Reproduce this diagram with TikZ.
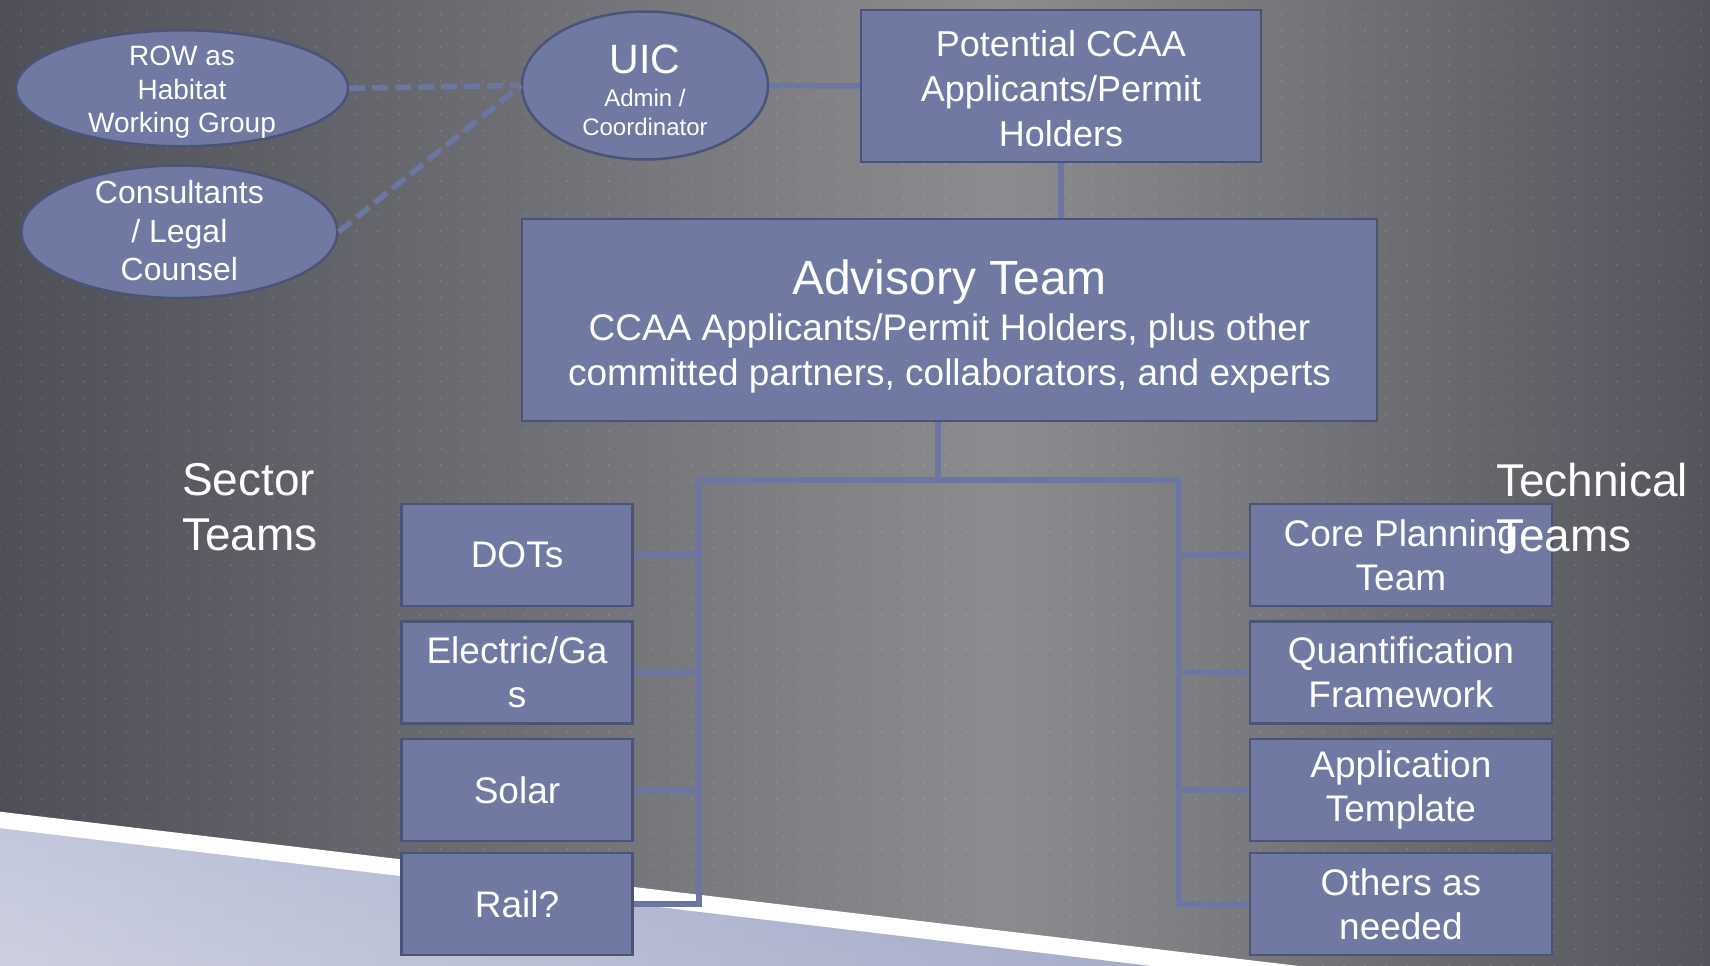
\documentclass[tikz,border=0pt]{standalone}
\usepackage{fontspec}
\setmainfont{Liberation Sans}
\usetikzlibrary{shapes.geometric,patterns}
\definecolor{boxfill}{HTML}{6F79A2}
\definecolor{boxline}{HTML}{4B5377}
\definecolor{conn}{HTML}{6B76A1}
\definecolor{bgleft}{HTML}{4E4F57}
\definecolor{bgmid}{HTML}{8C8C90}
\definecolor{bgright}{HTML}{54555C}
\definecolor{lavtop}{HTML}{A4ABCA}
\definecolor{lavmid}{HTML}{CBCEDF}
\definecolor{lavbot}{HTML}{B2B7CF}
\definecolor{lavblue}{HTML}{939CC0}
\pgfdeclarepatternformonly{bgdots}{\pgfqpoint{-1.5pt}{-1.5pt}}{\pgfqpoint{1.5pt}{1.5pt}}{\pgfqpoint{21pt}{16.7pt}}{\pgfpathcircle{\pgfqpoint{0pt}{0pt}}{1.1pt}\pgfusepath{fill}}
\begin{document}
\begin{tikzpicture}[x=1pt,y=-1pt,
  every node/.style={text=white},
  teambox/.style={rectangle, draw=boxline, line width=2.5pt, fill=boxfill, inner sep=0pt, align=center, font=\fontsize{37}{44}\selectfont},
  oval/.style={ellipse, draw=boxline, line width=2.5pt, fill=boxfill, inner sep=0pt, align=center},
  ovaltext/.style={inner sep=0pt, align=center},
  link/.style={draw=conn, line width=5.5pt},
  dlink/.style={draw=conn, line width=5.5pt, dash pattern=on 16pt off 7pt},
  heading/.style={align=left, font=\fontsize{46}{55}\selectfont, inner sep=0pt, anchor=north west}
]
\useasboundingbox (0,0) rectangle (1710,966);
% background
\shade[left color=bgleft, right color=bgmid] (0,0) rectangle (1000,966);
\shade[left color=bgmid, right color=bgright] (1000,0) rectangle (1710,966);
\fill[pattern=bgdots, pattern color=white, opacity=0.13] (0,0) rectangle (1710,966);
% bottom wedge
\fill[white] (0,811.7) -- (1299,966) -- (0,966) -- cycle;
\begin{scope}
  \clip (0,828.3) -- (1151,966) -- (0,966) -- cycle;
  \shade[top color=lavtop, middle color=lavmid, bottom color=lavbot] (0,828) rectangle (1160,966);
  \shade[left color=white, right color=lavblue, opacity=0.35] (0,828) rectangle (1160,966);
\end{scope}

% nodes
\node[oval, minimum width=332, minimum height=116] (row) at (182,88.3) {};
\node[ovaltext, font=\fontsize{28}{33.5}\selectfont, yshift=-4pt] (rowtext) at (row.center) {ROW as\\Habitat\\Working Group};
\node[oval, minimum width=316, minimum height=132.5] (cons) at (179.4,231.8) {};
\node[ovaltext, font=\fontsize{32}{38.5}\selectfont, yshift=1pt] (constext) at (cons.center) {Consultants\\/ Legal\\Counsel};
\node[oval, minimum width=246, minimum height=148, font=\fontsize{24}{29}\selectfont] (uic) at (645,85.5) {{\fontsize{41}{41}\selectfont\rule{0pt}{37.3pt}UIC}\\[4pt]Admin /\\Coordinator};
\node[teambox, minimum width=400, minimum height=152, font=\fontsize{36}{45}\selectfont] (pot) at (1061,86) {\rule{0pt}{30.5pt}Potential CCAA\\Applicants/Permit\\Holders};
\node[teambox, minimum width=855, minimum height=202, font=\fontsize{37}{44.5}\selectfont] (adv) at (949.5,320) {{\fontsize{48}{48}\selectfont\rule{0pt}{47pt}Advisory Team}\\[2.2pt]CCAA Applicants/Permit Holders, plus other\\committed partners, collaborators, and experts};

\node[teambox, minimum width=230.6, minimum height=102] (dots) at (517,555) {DOTs};
\node[teambox, minimum width=230.6, minimum height=102] (elec) at (517,672.3) {Electric/Ga\\s};
\node[teambox, minimum width=230.6, minimum height=102] (solar) at (517,790) {Solar};
\node[teambox, minimum width=230.6, minimum height=102] (rail) at (517,904) {Rail?};

\node[teambox, minimum width=301.7, minimum height=102] (core) at (1400.9,555) {Core Planning\\Team};
\node[teambox, minimum width=301.7, minimum height=102] (quant) at (1400.9,672.3) {Quantification\\Framework};
\node[teambox, minimum width=301.7, minimum height=102] (appl) at (1400.9,790) {Application\\Template};
\node[teambox, minimum width=301.7, minimum height=102] (others) at (1400.9,904) {Others as\\needed};

% connectors
\coordinate (hub) at (938,480);
\coordinate (ltop) at (699,480);
\coordinate (rtop) at (1179,480);
\draw[dlink] (row.east) -- (uic.west);
\draw[dlink] (cons.east) -- (uic.west);
\draw[link] (uic.east) -- (pot.west);
\draw[link] (pot.south) -- (pot.south |- adv.north);
\draw[link] (adv.south -| hub) -- (hub);
\draw[link, line join=miter] (rail.east) -- (rail.east -| ltop) -- (ltop) -- (rtop) -- (others.west -| rtop) -- (others.west);
\draw[link] (dots.east) -- (dots.east -| ltop);
\draw[link] (elec.east) -- (elec.east -| ltop);
\draw[link] (solar.east) -- (solar.east -| ltop);
\draw[link] (core.west) -- (core.west -| rtop);
\draw[link] (quant.west) -- (quant.west -| rtop);
\draw[link] (appl.west) -- (appl.west -| rtop);

% headings
\node[heading] (sector) at (182,463.5) {Sector\\Teams};
\node[heading] (technical) at (1496,463.4) {Technical\\Teams};
\end{tikzpicture}
\end{document}
